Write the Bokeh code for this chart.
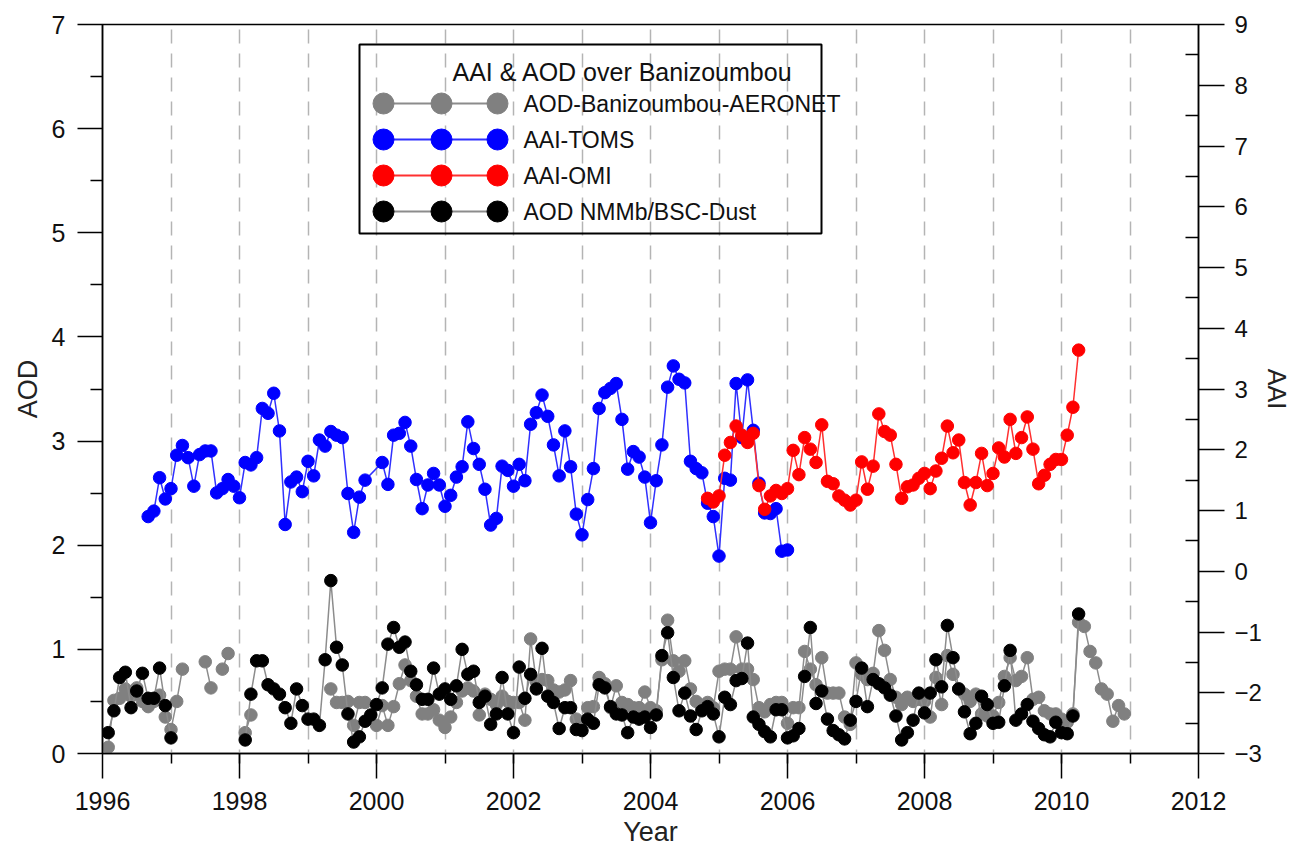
import math
from bokeh.plotting import figure
from bokeh.models import Range1d, LinearAxis, FixedTicker
from bokeh.core.properties import value
from bokeh.embed import file_html
from bokeh.resources import INLINE

FONT = "Liberation Sans"

# ---------------- data (monthly values, None = no data) ----------------
# AERONET AOD at Banizoumbou, from Jan 1996
aeronet_start = (1996, 1)
aeronet_aod = [
    None, 0.06, 0.51, 0.53, 0.62, 0.55, 0.63, 0.50, 0.45, 0.50, 0.56, 0.35,   # 1996
    0.23, 0.50, 0.81, None, None, None, 0.88, 0.63, None, 0.81, 0.96, None,   # 1997
    None, 0.20, 0.37, None, None, None, None, None, None, None, None, None,   # 1998
    None, None, None, None, 0.62, 0.49, 0.49, 0.50, 0.27, 0.49, 0.49, None,   # 1999
    0.27, 0.46, 0.27, 0.45, 0.67, 0.85, 0.70, 0.55, 0.38, 0.38, 0.42, 0.32,   # 2000
    0.25, 0.35, 0.49, 0.60, 0.63, 0.60, 0.37, 0.57, 0.52, 0.47, 0.55, 0.50,   # 2001
    0.49, 0.49, 0.32, 1.10, 0.69, 0.71, 0.70, 0.61, 0.59, 0.61, 0.70, 0.33,   # 2002
    0.30, 0.44, 0.45, 0.73, 0.67, 0.44, 0.65, 0.49, 0.47, 0.44, 0.44, 0.59,   # 2003
    0.44, 0.41, 0.90, 1.28, 0.89, 0.79, 0.89, 0.62, 0.50, 0.44, 0.49, 0.44,   # 2004
    0.79, 0.81, 0.81, 1.12, 0.81, 0.81, 0.71, 0.44, 0.40, 0.47, 0.49, 0.49,   # 2005
    0.29, 0.44, 0.44, 0.98, 0.81, 0.66, 0.92, 0.58, 0.58, 0.58, 0.35, 0.28,   # 2006
    0.87, 0.76, 0.71, 0.77, 1.18, 0.99, 0.71, 0.54, 0.47, 0.54, 0.50, 0.52,   # 2007
    0.50, 0.35, 0.73, 0.47, 0.94, 0.76, 0.62, 0.57, 0.50, 0.57, 0.38, 0.36,   # 2008
    0.36, 0.49, 0.74, 0.92, 0.70, 0.74, 0.92, 0.52, 0.54, 0.41, 0.38, 0.38,   # 2009
    0.33, 0.30, 0.38, 1.26, 1.22, 0.98, 0.87, 0.62, 0.57, 0.31, 0.46, 0.38,   # 2010
]

# TOMS aerosol index, from Sep 1996
toms_start = (1996, 9)
toms_aai = [
    0.90, 0.99, 1.54, 1.19,                                                   # 1996
    1.36, 1.91, 2.07, 1.87, 1.40, 1.92, 1.98, 1.98, 1.29, 1.36, 1.51, 1.40,   # 1997
    1.21, 1.79, 1.75, 1.87, 2.68, 2.60, 2.93, 2.31, 0.77, 1.47, 1.55, 1.31,   # 1998
    1.81, 1.57, 2.16, 2.06, 2.30, 2.24, 2.20, 1.28, 0.64, 1.22, 1.50, None,   # 1999
    None, 1.79, 1.43, 2.24, 2.27, 2.45, 2.06, 1.51, 1.03, 1.42, 1.61, 1.42,   # 2000
    1.07, 1.25, 1.55, 1.72, 2.46, 2.02, 1.76, 1.35, 0.76, 0.87, 1.73, 1.66,   # 2001
    1.40, 1.76, 1.49, 2.42, 2.61, 2.90, 2.55, 2.08, 1.57, 2.31, 1.72, 0.94,   # 2002
    0.60, 1.18, 1.69, 2.68, 2.94, 3.01, 3.09, 2.50, 1.68, 1.97, 1.88, 1.55,   # 2003
    0.80, 1.49, 2.08, 3.03, 3.38, 3.16, 3.10, 1.81, 1.69, 1.62, 1.12, 0.90,   # 2004
    0.25, 1.53, 1.50, 3.09, 2.20, 3.15, 2.32, 1.45, 0.96, 0.95, 1.03, 0.33,   # 2005
    0.35,                                                                     # 2006
]

# OMI aerosol index, from Nov 2004
omi_start = (2004, 11)
omi_aai = [
    1.20, 1.14,                                                               # 2004
    1.24, 1.91, 2.12, 2.39, 2.24, 2.12, 2.27, 1.41, 1.02, 1.24, 1.33, 1.28,   # 2005
    1.36, 1.99, 1.59, 2.20, 2.01, 1.79, 2.41, 1.48, 1.44, 1.24, 1.17, 1.09,   # 2006
    1.17, 1.80, 1.35, 1.73, 2.59, 2.30, 2.24, 1.76, 1.20, 1.39, 1.42, 1.53,   # 2007
    1.61, 1.36, 1.65, 1.86, 2.39, 1.95, 2.16, 1.46, 1.09, 1.46, 1.94, 1.41,   # 2008
    1.61, 2.03, 1.88, 2.50, 1.94, 2.20, 2.54, 2.01, 1.44, 1.58, 1.76, 1.84,   # 2009
    1.84, 2.24, 2.70, 3.64,                                                   # 2010
]

# NMMB/BSC-Dust model AOD, from Jan 1996
nmmb_start = (1996, 1)
nmmb_aod = [
    None, 0.20, 0.41, 0.73, 0.78, 0.44, 0.60, 0.77, 0.53, 0.53, 0.82, 0.46,   # 1996
    0.15, None, None, None, None, None, None, None, None, None, None, None,   # 1997
    None, 0.13, 0.57, 0.89, 0.89, 0.66, 0.62, 0.57, 0.44, 0.29, 0.62, 0.46,   # 1998
    0.33, 0.33, 0.27, 0.90, 1.66, 1.02, 0.85, 0.38, 0.11, 0.16, 0.31, 0.37,   # 1999
    0.47, 0.63, 1.05, 1.21, 1.02, 1.07, 0.79, 0.66, 0.52, 0.52, 0.82, 0.57,   # 2000
    0.62, 0.52, 0.65, 1.00, 0.76, 0.79, 0.49, 0.55, 0.28, 0.38, 0.73, 0.38,   # 2001
    0.20, 0.83, 0.53, 0.76, 0.62, 1.01, 0.55, 0.49, 0.24, 0.44, 0.44, 0.23,   # 2002
    0.22, 0.33, 0.29, 0.66, 0.63, 0.45, 0.38, 0.37, 0.20, 0.35, 0.33, 0.35,   # 2003
    0.25, 0.37, 0.94, 1.16, 0.73, 0.41, 0.58, 0.36, 0.23, 0.41, 0.45, 0.38,   # 2004
    0.16, 0.54, 0.47, 0.70, 0.72, 1.06, 0.35, 0.28, 0.21, 0.16, 0.42, 0.42,   # 2005
    0.15, 0.17, 0.24, 0.74, 1.21, 0.48, 0.60, 0.33, 0.22, 0.18, 0.14, 0.32,   # 2006
    0.50, 0.82, 0.45, 0.71, 0.67, 0.63, 0.56, 0.36, 0.13, 0.20, 0.32, 0.58,   # 2007
    0.39, 0.58, 0.90, 0.64, 1.23, 0.92, 0.62, 0.40, 0.19, 0.29, 0.55, 0.47,   # 2008
    0.29, 0.30, 0.65, 0.99, 0.32, 0.38, 0.47, 0.31, 0.24, 0.18, 0.16, 0.30,   # 2009
    0.20, 0.19, 0.36, 1.34,                                                   # 2010
]

year_ticks = [1996, 1998, 2000, 2002, 2004, 2006, 2008, 2010, 2012]
year_grid = list(range(1997, 2012))
aod_ticks = [0, 1, 2, 3, 4, 5, 6, 7]
aai_ticks = [-3, -2, -1, 0, 1, 2, 3, 4, 5, 6, 7, 8, 9]

legend_title = "AAI & AOD over Banizoumbou"
legend_labels = ["AOD-Banizoumbou-AERONET", "AAI-TOMS", "AAI-OMI", "AOD NMMb/BSC-Dust"]


def monthly(start, vals):
    """Decimal-year x positions (start of each month) and values with NaN gaps."""
    y0, m0 = start
    xs = [y0 + (m0 - 1 + i) / 12.0 for i in range(len(vals))]
    ys = [math.nan if v is None else v for v in vals]
    return xs, ys


def valid(xs, ys):
    pts = [(x, y) for x, y in zip(xs, ys) if not math.isnan(y)]
    return [p[0] for p in pts], [p[1] for p in pts]


# ---------------- figure ----------------
L, R, T, B = 102, 96, 24, 94
FW, FH = 1096, 729

p = figure(frame_width=FW, frame_height=FH,
           x_range=Range1d(1996, 2012), y_range=Range1d(0, 7),
           min_border_left=L, min_border_right=R, min_border_top=T, min_border_bottom=B,
           output_backend="svg", toolbar_location=None,
           background_fill_color="white", border_fill_color="white")
p.outline_line_color = "black"
p.outline_line_width = 1.5

p.extra_y_ranges = {"aai": Range1d(-3, 9)}
# pixel-space ranges for the legend panel (screen coordinates, y downward)
p.extra_x_ranges = {"px": Range1d(L, L + FW)}
p.extra_y_ranges["py"] = Range1d(T + FH, T)

# vertical dashed year lines
p.ygrid.visible = False
p.xgrid.ticker = FixedTicker(ticks=year_grid)
p.xgrid.grid_line_color = "#b4b4b4"
p.xgrid.grid_line_width = 1.5
p.xgrid.grid_line_dash = "14 10"
p.xgrid.grid_line_dash_offset = 10


def style_axis(ax, size="25px", label_size="27px"):
    ax.axis_line_color = "black"
    ax.axis_line_width = 1.5
    ax.major_tick_line_color = "black"
    ax.major_tick_line_width = 1.5
    ax.minor_tick_line_color = "black"
    ax.minor_tick_line_width = 1.5
    ax.major_label_text_font = FONT
    ax.major_label_text_font_size = size
    ax.major_label_text_color = "#111111"
    ax.axis_label_text_font = FONT
    ax.axis_label_text_font_size = label_size
    ax.axis_label_text_font_style = "normal"
    ax.axis_label_text_color = "#222222"


xa = p.xaxis[0]
xa.ticker = FixedTicker(ticks=year_ticks, minor_ticks=year_grid)
xa.major_tick_out = 25
xa.major_tick_in = 0
xa.minor_tick_out = 10
xa.minor_tick_in = 0
xa.major_label_standoff = 13
xa.axis_label = "Year"
xa.axis_label_standoff = 4
style_axis(xa)

ya = p.yaxis[0]
ya.ticker = FixedTicker(ticks=aod_ticks, minor_ticks=[t + 0.5 for t in aod_ticks[:-1]])
ya.major_tick_out = 25
ya.major_tick_in = 0
ya.minor_tick_out = 12
ya.minor_tick_in = 0
ya.major_label_standoff = 12
ya.axis_label = "AOD"
ya.axis_label_standoff = 6
style_axis(ya)

ra = LinearAxis(y_range_name="aai",
                ticker=FixedTicker(ticks=aai_ticks, minor_ticks=[t + 0.5 for t in aai_ticks[:-1]]))
ra.major_tick_out = 26
ra.major_tick_in = 0
ra.minor_tick_out = 0
ra.minor_tick_in = 13
ra.major_label_standoff = 10
ra.axis_label = "AAI"
ra.axis_label_standoff = -2
style_axis(ra, size="24px", label_size="25px")
p.add_layout(ra, "right")

# ---------------- series ----------------
MS = 12.5
GREY = "#808080"
LINE_GREY = "#8c8c8c"

gx, gy = monthly(aeronet_start, aeronet_aod)
p.line(gx, gy, line_color=LINE_GREY, line_width=1.5)
p.scatter(*valid(gx, gy), size=MS, fill_color=GREY, line_color=GREY)

kx, ky = monthly(nmmb_start, nmmb_aod)
p.line(kx, ky, line_color=LINE_GREY, line_width=1.5)
p.scatter(*valid(kx, ky), size=MS, fill_color="black", line_color="black")

bx, by = valid(*monthly(toms_start, toms_aai))
p.line(bx, by, line_color="#3030ff", line_width=1.5, y_range_name="aai")
p.scatter(bx, by, size=MS, fill_color="#0000ff", line_color="#0000ff", y_range_name="aai")

rx, ry = valid(*monthly(omi_start, omi_aai))
p.line(rx, ry, line_color="#ff3030", line_width=1.5, y_range_name="aai")
p.scatter(rx, ry, size=MS, fill_color="#ff0000", line_color="#ff0000", y_range_name="aai")

# ---------------- legend panel (pixel coordinates) ----------------
box_l, box_t, box_r, box_b = 359, 44, 821, 233
row_y = [103, 139, 175, 211]
mark_x = [383, 441, 497]
text_x = 523
legend_colors = [(GREY, LINE_GREY), ("#0000ff", "#3030ff"), ("#ff0000", "#ff3030"), ("black", LINE_GREY)]

p.quad(left=[box_l], right=[box_r], top=[box_t], bottom=[box_b],
       fill_color=None, line_color="black", line_width=2,
       x_range_name="px", y_range_name="py")
p.text(x=[452], y=[71], text=[legend_title], text_font=value(FONT),
       text_font_size="25px", text_baseline="middle", text_color="#111111",
       x_range_name="px", y_range_name="py")
for yy, (fc, lc), lab in zip(row_y, legend_colors, legend_labels):
    p.line([mark_x[0], mark_x[-1]], [yy, yy], line_color=lc, line_width=2,
           x_range_name="px", y_range_name="py")
    p.scatter(mark_x, [yy] * 3, size=21, fill_color=fc, line_color=fc,
              x_range_name="px", y_range_name="py")
    p.text(x=[text_x], y=[yy], text=[lab], text_font=value(FONT),
           text_font_size="23px", text_baseline="middle", text_color="#111111",
           x_range_name="px", y_range_name="py")

open("out.html", "w").write(file_html(p, INLINE))
